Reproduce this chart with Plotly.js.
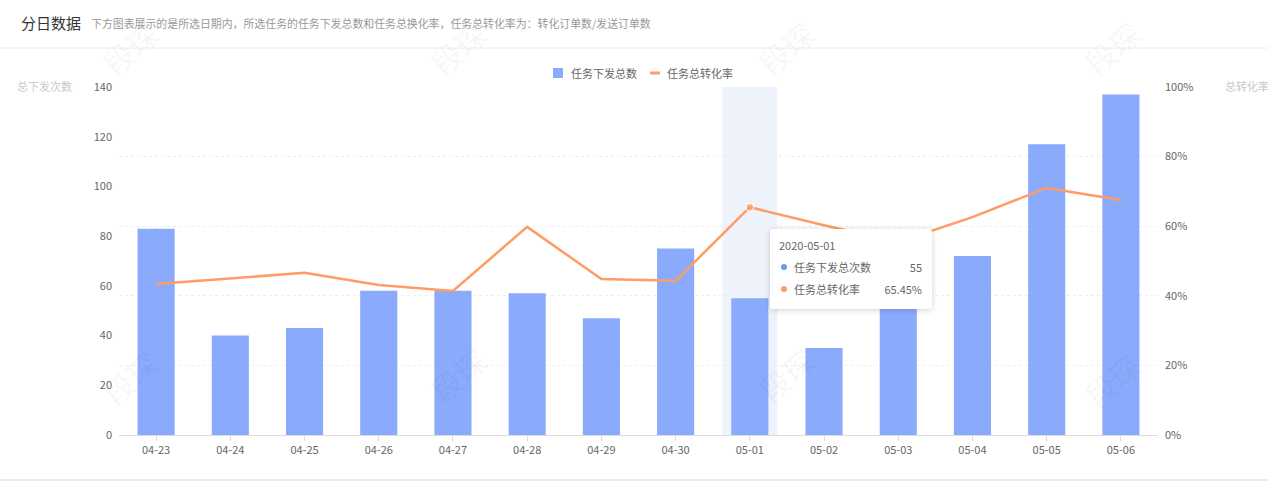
<!DOCTYPE html>
<html>
<head>
<meta charset="utf-8">
<script src="https://cdn.plot.ly/plotly-3.0.1.min.js"></script>
<style>
  html, body { margin: 0; padding: 0; background: #fff; }
  #wrap { position: relative; width: 1268px; height: 482px; overflow: hidden; font-family: "Noto Sans CJK SC", "Noto Sans", sans-serif; }
  #chart { position: absolute; left: 0; top: 0; width: 1268px; height: 482px; }
  #tip { position: absolute; left: 770px; top: 229px; width: 162px; height: 80px; background: #fff; border-radius: 3px;
         box-shadow: 0 1px 6px rgba(0,0,0,0.18); box-sizing: border-box; padding: 5px 10px 0 9px; font-size: 11px; color: #666; pointer-events: none; }
  #tip .d { height: 22px; line-height: 22px; }
  #tip .r { height: 22px; line-height: 22px; display: flex; align-items: center; }
  #tip .dot { width: 6px; height: 6px; border-radius: 3px; margin: 0 7px 0 2px; }
  #tip .n { flex: 1; }
</style>
</head>
<body>
<div id="wrap">
  <div id="chart"></div>
  <div id="tip"></div>
</div>
<script>
// ---- data ----
const categories = ["04-23","04-24","04-25","04-26","04-27","04-28","04-29","04-30","05-01","05-02","05-03","05-04","05-05","05-06"];
const fullDates = ["2020-04-23","2020-04-24","2020-04-25","2020-04-26","2020-04-27","2020-04-28","2020-04-29","2020-04-30","2020-05-01","2020-05-02","2020-05-03","2020-05-04","2020-05-05","2020-05-06"];
const issuedTotal = [83, 40, 43, 58, 58, 57, 47, 75, 55, 35, 56, 72, 117, 137];
const conversionRate = [0.434, 0.450, 0.466, 0.431, 0.414, 0.598, 0.448, 0.443, 0.6545, 0.603, 0.555, 0.626, 0.710, 0.675];
const seriesNames = ["任务下发总数", "任务总转化率"];
const tipNames = ["任务下发总次数", "任务总转化率"];
const highlightIndex = 8;

const titleText = "分日数据";
const subtitleText = "下方图表展示的是所选日期内，所选任务的任务下发总数和任务总换化率，任务总转化率为：转化订单数/发送订单数";
const leftAxisTitle = "总下发次数";
const rightAxisTitle = "总转化率";
const watermarkText = "段琛";

const barColor = "#8aabfc";
const lineColor = "#ff9b63";
const font = "Noto Sans CJK SC, Noto Sans, sans-serif";

const W = 1268, H = 482;
const m = {l: 119, r: 110, t: 87, b: 47};
const pw = W - m.l - m.r, ph = H - m.t - m.b;
const px = x => (x - m.l) / pw;
const py = y => (H - m.b - y) / ph;

const markerSizes = conversionRate.map((_, i) => i === highlightIndex ? 8 : 0);

const traces = [
  {
    type: "bar", name: seriesNames[0], x: categories, y: issuedTotal,
    marker: {color: barColor}, yaxis: "y", hoverinfo: "skip", showlegend: false
  },
  {
    type: "scatter", mode: "lines+markers", name: seriesNames[1], x: categories, y: conversionRate,
    yaxis: "y2", line: {color: lineColor, width: 2.5},
    marker: {color: lineColor, size: markerSizes, line: {color: "#fff", width: 1.5}}, hoverinfo: "skip", showlegend: false
  }
];

// watermarks
const wmPos = [[130, 48], [458, 48], [786, 48], [1112, 48], [130, 378], [458, 375], [786, 375], [1112, 380]];
const annotations = wmPos.map(p => ({
  xref: "paper", yref: "paper", x: px(p[0]), y: py(p[1]), xanchor: "center", yanchor: "middle",
  text: watermarkText, showarrow: false,
  textangle: -40, font: {family: font, size: 30, color: "rgba(0,0,0,0.05)"}
}));
annotations.push(
  {xref: "paper", yref: "paper", x: px(19), y: py(22), xanchor: "left", yanchor: "middle", text: titleText, showarrow: false,
   font: {family: font, size: 15, color: "#333"}},
  {xref: "paper", yref: "paper", x: px(89), y: py(23), xanchor: "left", yanchor: "middle", text: subtitleText, showarrow: false,
   font: {family: font, size: 10.9, color: "#999"}},
  {xref: "paper", yref: "paper", x: px(74), y: py(86), xanchor: "right", yanchor: "middle", text: leftAxisTitle, showarrow: false,
   font: {family: font, size: 11, color: "#c8c8c8"}},
  {xref: "paper", yref: "paper", x: px(1223), y: py(86), xanchor: "left", yanchor: "middle", text: rightAxisTitle, showarrow: false,
   font: {family: font, size: 11, color: "#c8c8c8"}},
  // legend texts
  {xref: "paper", yref: "paper", x: px(569), y: py(73), xanchor: "left", yanchor: "middle", text: seriesNames[0], showarrow: false,
   font: {family: font, size: 11, color: "#666"}},
  {xref: "paper", yref: "paper", x: px(665), y: py(73), xanchor: "left", yanchor: "middle", text: seriesNames[1], showarrow: false,
   font: {family: font, size: 11, color: "#666"}}
);

const shapes = [
  {type: "rect", xref: "x", yref: "paper", x0: highlightIndex - 0.37, x1: highlightIndex + 0.37, y0: 0, y1: 1,
   fillcolor: "#eef2fa", line: {width: 0}, layer: "below"},
  {type: "line", xref: "paper", yref: "paper", x0: px(0), x1: px(W), y0: py(48), y1: py(48), line: {color: "#ececec", width: 1}},
  {type: "line", xref: "paper", yref: "paper", x0: px(0), x1: px(W), y0: py(480), y1: py(480), line: {color: "#ececec", width: 2}},
  // legend symbols
  {type: "rect", xref: "paper", yref: "paper", x0: px(553), x1: px(563), y0: py(78), y1: py(68), fillcolor: barColor, line: {width: 0}},
  {type: "line", xref: "paper", yref: "paper", x0: px(650), x1: px(660), y0: py(73), y1: py(73), line: {color: lineColor, width: 3}}
];

const layout = {
  width: W, height: H,
  margin: m,
  paper_bgcolor: "#fff", plot_bgcolor: "rgba(0,0,0,0)",
  font: {family: font, size: 11, color: "#666"},
  showlegend: false,
  bargap: 0.5,
  xaxis: {
    type: "category", range: [-0.5, categories.length - 0.5], autorange: false,
    showgrid: false, zeroline: false, showline: true, linecolor: "#dcdcdc", linewidth: 1,
    ticks: "outside", ticklen: 5, tickcolor: "#dcdcdc", tickfont: {size: 11, color: "#666"}, fixedrange: true
  },
  yaxis: {
    range: [0, 140], dtick: 20, showgrid: false, zeroline: false, showline: false,
    tickfont: {size: 11, color: "#666"}, ticklabelstandoff: 6, fixedrange: true
  },
  yaxis2: {
    overlaying: "y", side: "right", range: [0, 1], dtick: 0.2, tickformat: ".0%",
    showgrid: true, gridcolor: "#eeeeee", griddash: "dot", zeroline: false, showline: false,
    tickfont: {size: 11, color: "#666"}, ticklabelstandoff: 6, fixedrange: true
  },
  shapes: shapes,
  annotations: annotations,
  hovermode: false
};

Plotly.newPlot("chart", traces, layout, {displayModeBar: false, staticPlot: true});

// tooltip for highlighted day
const tip = document.getElementById("tip");
tip.innerHTML =
  '<div class="d">' + fullDates[highlightIndex] + '</div>' +
  '<div class="r"><span class="dot" style="background:' + "#6f95f7" + '"></span><span class="n">' + tipNames[0] + '</span><span>' + issuedTotal[highlightIndex] + '</span></div>' +
  '<div class="r"><span class="dot" style="background:' + lineColor + '"></span><span class="n">' + tipNames[1] + '</span><span>' + (conversionRate[highlightIndex] * 100).toFixed(2) + '%</span></div>';
</script>
</body>
</html>
